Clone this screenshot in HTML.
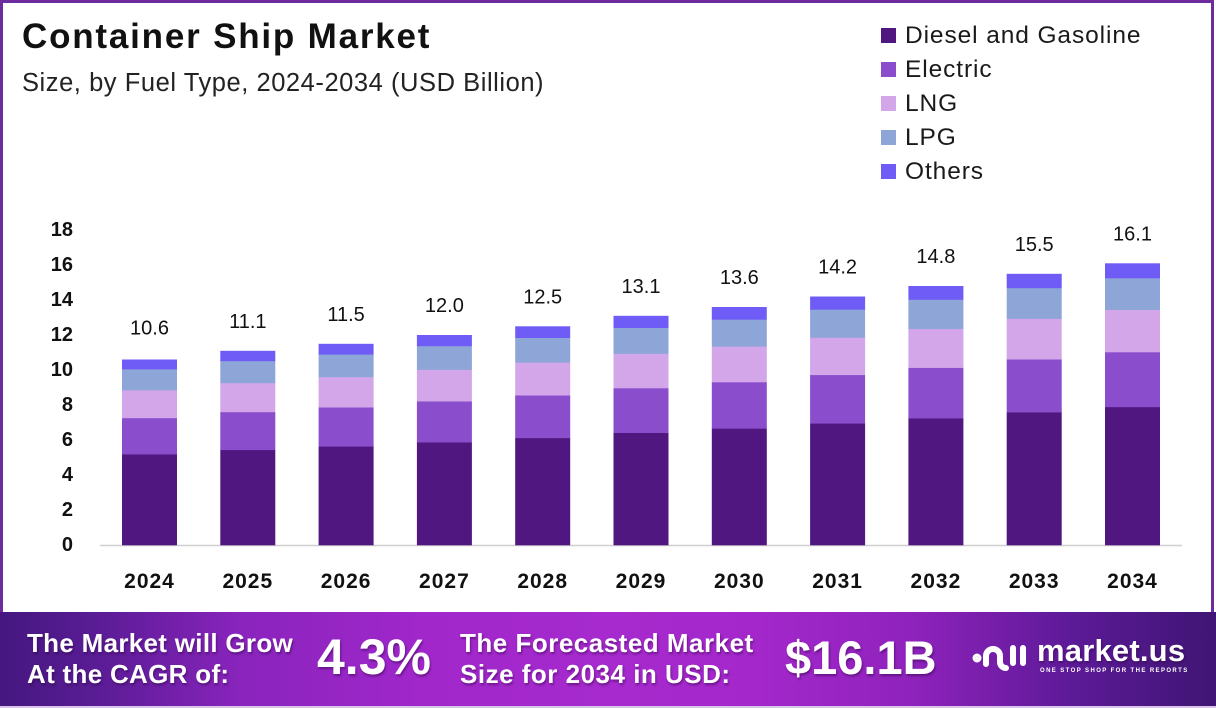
<!DOCTYPE html>
<html>
<head>
<meta charset="utf-8">
<style>
  html,body{margin:0;padding:0;}
  body{width:1216px;height:708px;position:relative;overflow:hidden;background:#fff;font-family:"Liberation Sans",sans-serif;}
  .frame{position:absolute;left:0;top:0;width:1208px;height:612px;border:3px solid #6c2c9e;border-bottom:none;box-sizing:content-box;}
  .banner{position:absolute;left:0;top:612px;width:1216px;height:94px;
    background:linear-gradient(90deg,#45177f 0%,#5a1c95 8%,#8a24bd 20%,#a127cb 35%,#a62acd 50%,#a427cb 62%,#8f22bc 75%,#5d1a98 88%,#3f1573 100%);
    border-bottom:2px solid #d8c4ea;}
  .bt{position:absolute;color:#fff;font-weight:bold;text-shadow:1px 2px 2px rgba(40,0,60,0.45);white-space:nowrap;}
</style>
</head>
<body>
<div class="frame"></div>

<svg width="1216" height="612" style="position:absolute;left:0;top:0" xmlns="http://www.w3.org/2000/svg">
  <text x="22" y="48" font-family="Liberation Sans, sans-serif" font-size="35" font-weight="bold" fill="#111" letter-spacing="1.8">Container Ship Market</text>
  <text x="22" y="91" font-family="Liberation Sans, sans-serif" font-size="25.5" fill="#222" letter-spacing="0.55">Size, by Fuel Type, 2024-2034 (USD Billion)</text>

  <!-- legend -->
  <g font-family="Liberation Sans, sans-serif" font-size="24.5" fill="#1a1a1a" letter-spacing="0.9">
    <rect x="881" y="28" width="15" height="15" fill="#4f177f"/>
    <text x="905" y="43">Diesel and Gasoline</text>
    <rect x="881" y="62" width="15" height="15" fill="#8a4dcc"/>
    <text x="905" y="77">Electric</text>
    <rect x="881" y="96" width="15" height="15" fill="#d3a6ea"/>
    <text x="905" y="111">LNG</text>
    <rect x="881" y="130" width="15" height="15" fill="#8ea5d8"/>
    <text x="905" y="145">LPG</text>
    <rect x="881" y="164" width="15" height="15" fill="#6f5cf6"/>
    <text x="905" y="179">Others</text>
  </g>

  <!-- y ticks -->
  <g font-family="Liberation Sans, sans-serif" font-size="20" font-weight="bold" fill="#111" text-anchor="end">
    <text x="73" y="551">0</text>
    <text x="73" y="516">2</text>
    <text x="73" y="481">4</text>
    <text x="73" y="446">6</text>
    <text x="73" y="411">8</text>
    <text x="73" y="376">10</text>
    <text x="73" y="341">12</text>
    <text x="73" y="306">14</text>
    <text x="73" y="271">16</text>
    <text x="73" y="236">18</text>
  </g>

  <line x1="100" y1="545.5" x2="1182" y2="545.5" stroke="#cfcfcf" stroke-width="1.5"/>

  <g id="bars"></g>
</svg>

<div class="banner"></div>
<div class="bt" style="left:27px;top:628px;font-size:26px;line-height:31px;letter-spacing:0.3px;">The Market will Grow<br>At the CAGR of:</div>
<div class="bt" style="left:317px;top:629px;font-size:50px;line-height:56px;">4.3%</div>
<div class="bt" style="left:460px;top:628px;font-size:26px;line-height:31px;letter-spacing:0.5px;">The Forecasted Market<br>Size for 2034 in USD:</div>
<div class="bt" style="left:785px;top:630px;font-size:47px;line-height:56px;">$16.1B</div>

<svg width="70" height="40" style="position:absolute;left:966px;top:636px" viewBox="966 636 70 40" xmlns="http://www.w3.org/2000/svg">
  <g stroke="#fff" stroke-width="6" fill="none" stroke-linecap="round" stroke-linejoin="round">
    <circle cx="977" cy="658" r="1.5" fill="#fff"/>
    <path d="M986,664 V656 A7,7 0 0 1 1000,656 V662 A6,6 0 0 0 1006,668"/>
    <line x1="1013" y1="648" x2="1013" y2="663"/>
    <line x1="1023" y1="648" x2="1023" y2="663"/>
  </g>
</svg>
<div class="bt" style="left:1037px;top:634px;font-size:31px;line-height:34px;letter-spacing:0.2px;">market.us</div>
<div class="bt" style="left:1040px;top:667px;font-size:6px;line-height:8px;letter-spacing:1.4px;text-shadow:none;">ONE STOP SHOP FOR THE REPORTS</div>

<script>
(function(){
  var ns="http://www.w3.org/2000/svg";
  var g=document.getElementById("bars");
  var totals=[10.6,11.1,11.5,12.0,12.5,13.1,13.6,14.2,14.8,15.5,16.1];
  var labels=["10.6","11.1","11.5","12.0","12.5","13.1","13.6","14.2","14.8","15.5","16.1"];
  var fr=[0.49,0.195,0.15,0.113,0.052];
  var cols=["#4f177f","#8a4dcc","#d3a6ea","#8ea5d8","#6f5cf6"];
  var base=545, sc=17.5;
  for(var i=0;i<totals.length;i++){
    var x=122+98.3*i, w=55, cum=0;
    for(var j=0;j<5;j++){
      var v=totals[i]*fr[j];
      var y1=base-(cum+v)*sc, y0=base-cum*sc;
      var r=document.createElementNS(ns,"rect");
      r.setAttribute("x",x.toFixed(1));r.setAttribute("y",y1.toFixed(1));
      r.setAttribute("width",w);r.setAttribute("height",(y0-y1+0.3).toFixed(1));
      r.setAttribute("fill",cols[j]);
      g.appendChild(r);
      cum+=v;
    }
    var top=base-totals[i]*sc;
    var ly=(i==0?top-32:top-30);
    var t=document.createElementNS(ns,"text");
    t.setAttribute("x",(x+w/2).toFixed(1));t.setAttribute("y",(ly+7).toFixed(1));
    t.setAttribute("text-anchor","middle");t.setAttribute("font-family","Liberation Sans, sans-serif");
    t.setAttribute("font-size","20");t.setAttribute("fill","#111");
    t.textContent=labels[i];g.appendChild(t);
    var yt=document.createElementNS(ns,"text");
    yt.setAttribute("x",(x+w/2).toFixed(1));yt.setAttribute("y","588");
    yt.setAttribute("text-anchor","middle");yt.setAttribute("font-family","Liberation Sans, sans-serif");
    yt.setAttribute("font-size","21");yt.setAttribute("font-weight","bold");yt.setAttribute("fill","#111");
    yt.setAttribute("letter-spacing","1");
    yt.textContent=String(2024+i);g.appendChild(yt);
  }
})();
</script>
</body>
</html>
